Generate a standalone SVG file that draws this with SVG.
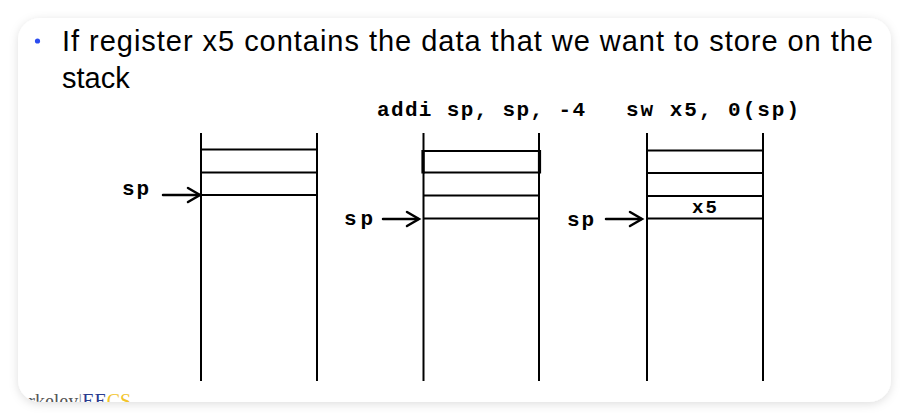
<svg xmlns="http://www.w3.org/2000/svg" width="908" height="419" viewBox="0 0 908 419">
  <defs>
    <filter id="shadow" x="-5%" y="-5%" width="110%" height="115%">
      <feDropShadow dx="0" dy="2" stdDeviation="5" flood-color="#000" flood-opacity="0.13"/>
    </filter>
    <clipPath id="cardClip">
      <rect x="18" y="18" width="873" height="384" rx="22" ry="22"/>
    </clipPath>
    <style>
      .ln { stroke: #000; stroke-width: 2; fill: none; stroke-linecap: butt; }
      .thick { stroke: #000; stroke-width: 3.2; fill: none; }
      .arr { stroke: #000; stroke-width: 2.5; fill: none; stroke-linecap: round; stroke-linejoin: miter; }
      .mono { font-family: "Liberation Mono", "DejaVu Sans Mono", monospace; font-weight: bold; font-size: 21px; fill: #000; }
      .small { font-size: 19px; }
      .title { font-family: "Liberation Sans", Arial, sans-serif; font-size: 29px; fill: #000; }
      .logo { font-family: "Liberation Serif", "Times New Roman", serif; font-size: 20px; }
    </style>
  </defs>

  <rect x="0" y="0" width="908" height="419" fill="#ffffff"/>
  <rect x="18" y="18" width="873" height="384" rx="22" ry="22" fill="#ffffff" filter="url(#shadow)"/>

  <g id="title">
    <circle cx="37.5" cy="41" r="2.6" fill="#2b4cf0"/>
    <text class="title" x="62" y="51" textLength="811" lengthAdjust="spacing">If register x5 contains the data that we want to store on the</text>
    <text class="title" x="62" y="88">stack</text>
  </g>

  <g id="code-labels">
    <text class="mono" x="377" y="116" textLength="208" lengthAdjust="spacing">addi sp, sp, -4</text>
    <text class="mono" x="626" y="116" textLength="173" lengthAdjust="spacing">sw x5, 0(sp)</text>
  </g>

  <g id="stack1">
    <line class="ln" x1="201" y1="133" x2="201" y2="381"/>
    <line class="ln" x1="317" y1="133" x2="317" y2="381"/>
    <line class="ln" x1="201" y1="149.5" x2="317" y2="149.5"/>
    <line class="ln" x1="201" y1="172.5" x2="317" y2="172.5"/>
    <line class="ln" x1="201" y1="195" x2="317" y2="195"/>
    <text class="mono" x="122" y="195" textLength="27" lengthAdjust="spacing">sp</text>
  </g>

  <g id="stack2">
    <line class="ln" x1="423.5" y1="133" x2="423.5" y2="381"/>
    <line class="ln" x1="539" y1="133" x2="539" y2="381"/>
    <line class="ln" x1="423" y1="151" x2="539.5" y2="151"/>
    <line class="ln" x1="423" y1="172.5" x2="539.5" y2="172.5"/>
    <line class="thick" x1="423" y1="150" x2="423" y2="173.5"/>
    <line class="thick" x1="539.5" y1="150" x2="539.5" y2="173.5"/>
    <line class="ln" x1="423.5" y1="195.5" x2="539" y2="195.5"/>
    <line class="ln" x1="423.5" y1="218.5" x2="539" y2="218.5"/>
    <text class="mono" x="344" y="225" textLength="29" lengthAdjust="spacing">sp</text>
  </g>

  <g id="stack3">
    <line class="ln" x1="647" y1="133" x2="647" y2="381"/>
    <line class="ln" x1="763" y1="133" x2="763" y2="381"/>
    <line class="ln" x1="647" y1="150.5" x2="763" y2="150.5"/>
    <line class="ln" x1="647" y1="173" x2="763" y2="173"/>
    <line class="ln" x1="647" y1="196" x2="763" y2="196"/>
    <line class="ln" x1="647" y1="218.5" x2="763" y2="218.5"/>
    <text class="mono small" x="692" y="213" textLength="25" lengthAdjust="spacing">x5</text>
    <text class="mono" x="567" y="226" textLength="27" lengthAdjust="spacing">sp</text>
  </g>

  <g id="connectors">
    <line class="arr" x1="163" y1="195" x2="199" y2="195"/>
    <polyline class="arr" points="188,188 200,195 188,202"/>
    <line class="arr" x1="383" y1="219" x2="418" y2="219"/>
    <polyline class="arr" points="407,212 419,219 407,226"/>
    <line class="arr" x1="606" y1="219" x2="641" y2="219"/>
    <polyline class="arr" points="630,212 642,219 630,226"/>
  </g>

  <g id="logo" clip-path="url(#cardClip)">
    <text class="logo" x="6" y="408"><tspan fill="#555555">Berkeley</tspan><tspan fill="#999999">|</tspan><tspan fill="#2a3b8f">EE</tspan><tspan fill="#f2c42b">CS</tspan></text>
  </g>
</svg>
